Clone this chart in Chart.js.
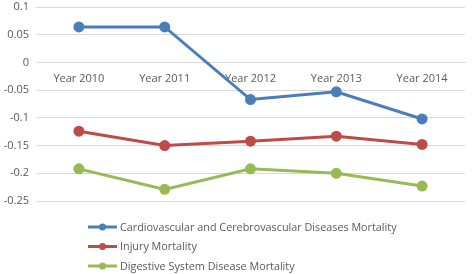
<!DOCTYPE html>
<html>
<head>
<meta charset="utf-8">
<script src="https://cdn.jsdelivr.net/npm/chart.js@4/dist/chart.umd.min.js"></script>
<style>
  html, body { margin: 0; padding: 0; background: #fff; }
  #wrap { width: 472px; height: 274px; }
</style>
</head>
<body>
<div id="wrap"><canvas id="myChart" width="472" height="274"></canvas></div>
<script>
// categories along the x axis
const years = ['Year 2010', 'Year 2011', 'Year 2012', 'Year 2013', 'Year 2014'];
// series names
const seriesNames = [
  'Cardiovascular and Cerebrovascular Diseases Mortality',
  'Injury Mortality',
  'Digestive System Disease Mortality'
];
// values
const cardio = [0.064, 0.064, -0.067, -0.053, -0.102];
const injury = [-0.124, -0.150, -0.142, -0.133, -0.148];
const digestive = [-0.192, -0.229, -0.192, -0.200, -0.223];
// y axis range
const yMin = -0.25;
const yMax = 0.1;
const yStep = 0.05;

const colors = ['#4a7ebb', '#be4b48', '#98b954'];
const textColor = '#595959';
const fontFamily = "'Open Sans', sans-serif";

// draws the legend as a single column under the plot, like the original
const columnLegend = {
  id: 'columnLegend',
  afterDraw(chart) {
    const ctx = chart.ctx;
    const x0 = chart.chartArea.left + 52;
    let y = chart.chartArea.bottom + 26;
    ctx.save();
    ctx.font = '10.8px ' + fontFamily;
    ctx.textBaseline = 'middle';
    chart.data.datasets.forEach(function(ds) {
      ctx.strokeStyle = ds.borderColor;
      ctx.lineWidth = 3;
      ctx.beginPath();
      ctx.moveTo(x0, y);
      ctx.lineTo(x0 + 29, y);
      ctx.stroke();
      ctx.fillStyle = ds.borderColor;
      ctx.beginPath();
      ctx.arc(x0 + 14.5, y, 3.5, 0, Math.PI * 2);
      ctx.fill();
      ctx.fillStyle = textColor;
      ctx.fillText(ds.label, x0 + 32, y + 0.5);
      y += 19.5;
    });
    ctx.restore();
  }
};

const ctx = document.getElementById('myChart').getContext('2d');
const myChart = new Chart(ctx, {
  type: 'line',
  data: {
    labels: years,
    datasets: [cardio, injury, digestive].map(function(vals, i) {
      return {
        label: seriesNames[i],
        data: vals,
        borderColor: colors[i],
        backgroundColor: colors[i],
        borderWidth: 3,
        pointRadius: 4,
        pointHoverRadius: 4,
        tension: 0
      };
    })
  },
  options: {
    responsive: false,
    animation: false,
    devicePixelRatio: 1,
    layout: { padding: { top: 5, right: 2, bottom: 73, left: 0 } },
    plugins: {
      legend: { display: false },
      tooltip: { enabled: false }
    },
    scales: {
      x: {
        position: { y: 0 },
        offset: true,
        grid: { display: false, drawTicks: false },
        border: { color: '#d9d9d9', width: 1 },
        ticks: {
          color: textColor,
          font: { family: fontFamily, size: 11 },
          padding: 10,
          maxRotation: 0
        }
      },
      y: {
        min: yMin,
        max: yMax,
        afterFit(scale) { scale.width = 36; },
        grid: { color: '#d9d9d9', drawTicks: true, tickLength: 7, tickColor: 'rgba(0,0,0,0)' },
        border: { display: false },
        ticks: {
          stepSize: yStep,
          color: textColor,
          font: { family: fontFamily, size: 11, lineHeight: 0.9 },
          padding: 0,
          callback: function(v) { return String(parseFloat(v.toFixed(2))); }
        }
      }
    }
  },
  plugins: [columnLegend]
});
</script>
</body>
</html>
